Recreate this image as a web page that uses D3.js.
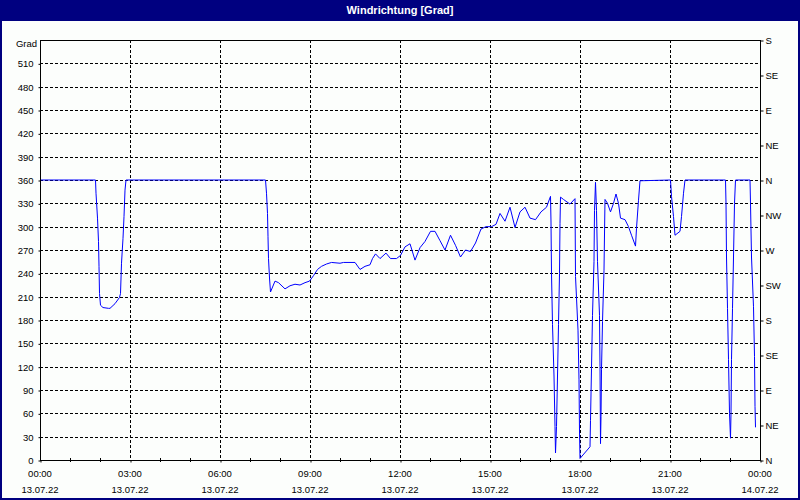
<!DOCTYPE html>
<html><head><meta charset="utf-8">
<script src="https://cdn.jsdelivr.net/npm/d3@7"></script>
<style>body{margin:0;background:#fcfefc}text{font-family:"Liberation Sans",Arial,sans-serif}</style>
</head><body><svg id="c" width="800" height="500"></svg>
<script>
// time in minutes since 13.07.22 00:00, wind direction in degrees
const minutes = [0,111,112,115,117,118,119,121,126,137,140,150,159,161,163,166,168,170,172,
  451,453,455,456,457,459,461,470,477,490,500,510,520,530,539,547,555,563,573,583,600,607,630,
  640,650,660,665,671,680,692,701,713,721,730,740,750,760,770,781,790,800,810,821,831,841,851,
  861,871,882,892,903,912,920,930,940,950,960,970,980,991,1002,1013,1021,1022,1023,1025,1028,
  1030,1031,1033,1035,1037,1039,1040,1041,1047,1060,1070,1071,1076,1078,1079,1080,1100,1101,
  1103,1105,1108,1109,1111,1113,1115,1119,1120,1121,1122,1123,1125,1128,1130,1135,1141,1147,
  1152,1157,1161,1170,1177,1183,1191,1193,1197,1200,1261,1263,1267,1270,1280,1283,1287,1290,
  1371,1372,1373,1375,1377,1379,1381,1382,1383,1385,1387,1389,1391,1420,1421,1423,1427,1429,
  1430,1431];
const degrees = [360,360,343,311,281,249,214,199,196,195,195,201,209,214,253,285,313,347,360,
  360,343,317,287,259,234,216,230,228,220,224,226,225,228,230,237,245,249,252,254,253,254,254,
  245,249,251,259,265,259,266,259,259,263,274,278,257,273,281,294,294,282,270,289,276,261,270,
  268,279,297,300,300,303,317,307,325,299,319,325,311,309,319,325,339,306,240,174,108,
  43,9,43,108,174,240,304,338,335,329,336,236,167,103,36,2,17,51,
  118,186,255,321,357,321,255,186,120,21,56,116,178,244,335,330,319,330,
  342,330,311,309,300,289,275,298,334,359,360,339,313,289,294,313,343,360,
  360,330,261,195,129,60,28,60,129,195,261,330,360,360,330,261,197,133,
  69,42];
const gradTicks = [0,30,60,90,120,150,180,210,240,270,300,330,360,390,420,450,480,510];
const compassTicks = [0,45,90,135,180,225,270,315,360,405,450,495,540];
const compassLabels = ["N","NE","E","SE","S","SW","W","NW","N","NE","E","SE","S"];
const timeTicks = [0,180,360,540,720,900,1080,1260,1440];
const timeLabels = ["00:00","03:00","06:00","09:00","12:00","15:00","18:00","21:00","00:00"];
const dateLabels = ["13.07.22","13.07.22","13.07.22","13.07.22","13.07.22","13.07.22","13.07.22","13.07.22","14.07.22"];
const hourTicks = [60,120,240,300,420,480,600,660,780,840,960,1020,1140,1200,1320,1380];
const titleText = "Windrichtung [Grad]";
const yUnit = "Grad";

const svg = d3.select("#c");
const navy = "#000080";
const L = 40, R = 760, T = 40, B = 460;
const x = d3.scaleLinear().domain([0,1440]).range([L,R]);
const y = d3.scaleLinear().domain([0,540]).range([B,T]);

svg.append("rect").attr("x",0).attr("y",0).attr("width",800).attr("height",500).attr("fill","#fcfefc");
svg.append("rect").attr("x",0).attr("y",0).attr("width",800).attr("height",21).attr("fill",navy);
svg.append("text").attr("x",400).attr("y",14).attr("text-anchor","middle")
  .attr("fill","#fff").attr("font-weight","bold").attr("font-size","11px").text(titleText);
svg.append("rect").attr("x",1).attr("y",1).attr("width",798).attr("height",498)
  .attr("fill","none").attr("stroke",navy).attr("stroke-width",2);

const g = svg.append("g");
// horizontal grid
g.selectAll(".hg").data(gradTicks.filter(d=>d>0)).join("line")
  .attr("x1",L).attr("x2",R).attr("y1",d=>Math.round(y(d))+0.5).attr("y2",d=>Math.round(y(d))+0.5)
  .attr("stroke","#000").attr("stroke-dasharray","3,2").attr("shape-rendering","crispEdges");
// vertical grid
g.selectAll(".vg").data(timeTicks.filter(d=>d>0&&d<1440)).join("line")
  .attr("y1",T).attr("y2",B).attr("x1",d=>Math.round(x(d))+0.5).attr("x2",d=>Math.round(x(d))+0.5)
  .attr("stroke","#000").attr("stroke-dasharray","3,2").attr("shape-rendering","crispEdges");

// data line
const line = d3.line().x((d,i)=>x(minutes[i])).y(d=>y(d));
g.append("path").attr("d",line(degrees)).attr("fill","none").attr("stroke","#0000ff").attr("stroke-width",1);

// frame
g.append("rect").attr("x",L+0.5).attr("y",T+0.5).attr("width",R-L).attr("height",B-T)
  .attr("fill","none").attr("stroke","#000").attr("shape-rendering","crispEdges");

// left axis
const ax = svg.append("g").attr("transform",`translate(${L+0.5},0.5)`)
  .call(d3.axisLeft(y).tickValues(gradTicks).tickSize(2).tickPadding(5));
ax.select(".domain").remove();
ax.selectAll("text").attr("font-size","9.5px").attr("font-family","Liberation Sans, Arial, sans-serif");
svg.append("text").attr("x",37).attr("y",47).attr("text-anchor","end").attr("font-size","9.5px").text(yUnit);

// right axis
const ar = svg.append("g").attr("transform",`translate(${R+0.5},0.5)`)
  .call(d3.axisRight(y).tickValues(compassTicks).tickFormat((d,i)=>compassLabels[i]).tickSize(3).tickPadding(2));
ar.select(".domain").remove();
ar.selectAll("text").attr("font-size","9.5px").attr("font-family","Liberation Sans, Arial, sans-serif");

// bottom axis
const ab = svg.append("g").attr("transform",`translate(0.5,${B+0.5})`)
  .call(d3.axisBottom(x).tickValues(timeTicks).tickSize(2).tickFormat(""));
ab.select(".domain").remove();
svg.selectAll(".mt").data(hourTicks).join("line")
  .attr("x1",d=>Math.round(x(d))+0.5).attr("x2",d=>Math.round(x(d))+0.5)
  .attr("y1",B-2).attr("y2",B+2).attr("stroke","#000").attr("shape-rendering","crispEdges");
svg.selectAll(".tl").data(timeTicks).join("text")
  .attr("x",d=>x(d)).attr("y",477).attr("text-anchor","middle").attr("font-size","9.5px")
  .text((d,i)=>timeLabels[i]);
svg.selectAll(".dl").data(timeTicks).join("text")
  .attr("x",d=>x(d)).attr("y",493).attr("text-anchor","middle").attr("font-size","9.5px")
  .text((d,i)=>dateLabels[i]);
</script></body></html>
